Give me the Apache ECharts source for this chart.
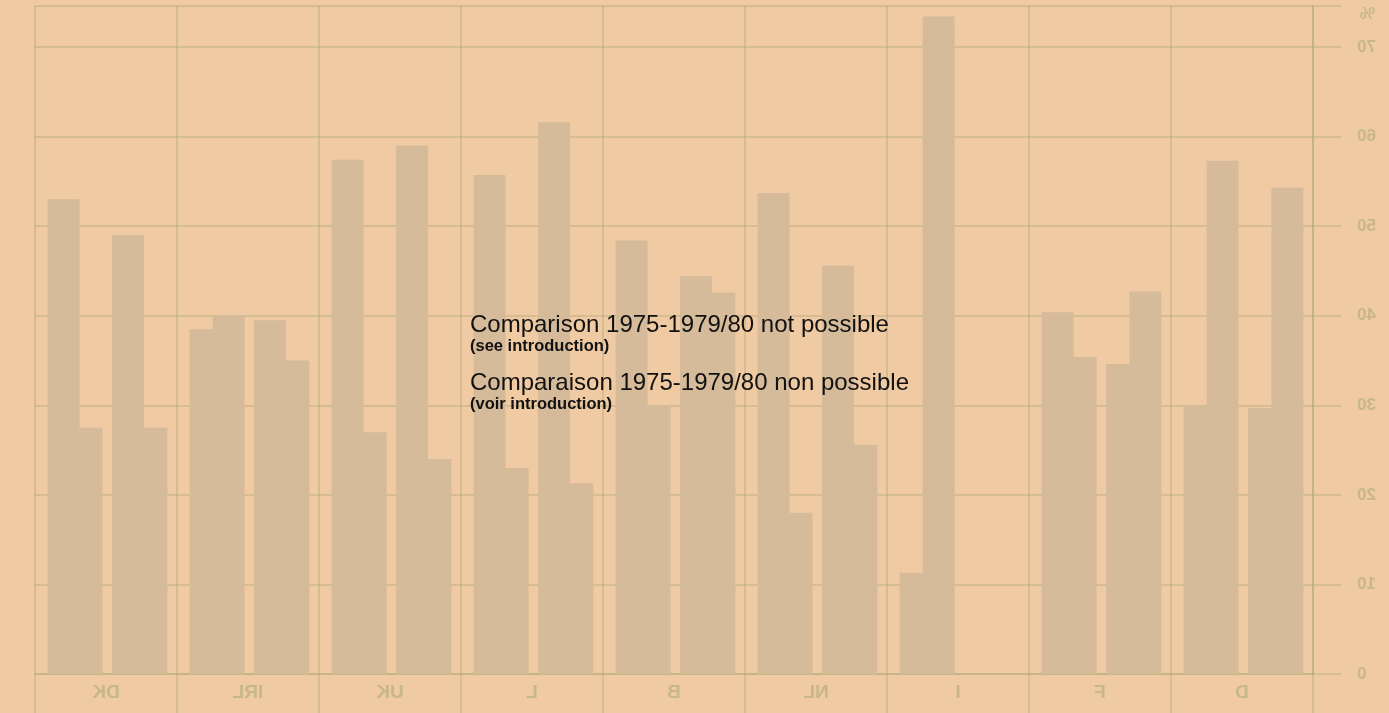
<!DOCTYPE html>
<html><head><meta charset="utf-8">
<script src="https://cdn.jsdelivr.net/npm/echarts@6/dist/echarts.min.js"></script>
<style>
html,body{margin:0;padding:0;background:#efcaa2;overflow:hidden;}
#wrap{position:relative;width:1389px;height:713px;}
#chart{position:absolute;left:0;top:0;width:1389px;height:713px;transform:scaleX(-1);}
#note{position:absolute;left:0;top:0;width:1389px;height:713px;}
</style></head><body>
<div id="wrap"><div id="chart"></div><div id="note"></div></div>
<script>
// Data (chart as printed on the reverse of the page, read left to right on that side)
const categories = ['D', 'F', 'I', 'NL', 'B', 'L', 'UK', 'IRL', 'DK'];
const barsA = [54.3, 42.7, null, 25.6, 42.6, 21.3, 24.0, 35.0, 27.5];
const barsB = [29.7, 34.6, null, 45.6, 44.4, 61.6, 59.0, 39.5, 49.0];
const barsC = [57.3, 35.4, 73.4, 18.0, 30.0, 23.0, 27.0, 40.0, 27.5];
const barsD = [30.0, 40.4, 11.3, 53.7, 48.4, 55.7, 57.4, 38.5, 53.0];
const yTickValues = [0, 10, 20, 30, 40, 50, 60, 70];
const unitLabel = '%';
const noteLines = [
  'Comparison 1975-1979/80 not possible',
  '(see introduction)',
  'Comparaison 1975-1979/80 non possible',
  '(voir introduction)'
];

// Styling / layout
const barColor = '#d5bb9a';
const gridColor = 'rgba(160,165,110,0.42)';
const labelColor = 'rgba(150,160,110,0.45)';
const offsets = [-0.320, -0.155, 0.137, 0.299];
const barFrac = 0.225;

function barSeries(values, off) {
  return {
    type: 'custom',
    data: values.map((v, i) => [i, v == null ? NaN : v]),
    encode: { x: 0, y: 1 },
    renderItem: function (params, api) {
      const v = api.value(1);
      if (v == null || isNaN(v)) return null;
      const idx = api.value(0);
      const band = api.size([1, 0])[0];
      const base = api.coord([idx, 0]);
      const top = api.coord([idx, v]);
      const w = band * barFrac;
      const cx = base[0] + band * off;
      return {
        type: 'rect',
        shape: { x: cx - w / 2, y: top[1], width: w, height: base[1] - top[1] },
        style: { fill: barColor }
      };
    },
    z: 2
  };
}

const chart = echarts.init(document.getElementById('chart'), null, { renderer: 'canvas' });
chart.setOption({
  backgroundColor: 'transparent',
  animation: false,
  grid: { left: 76, right: 35, top: 5.8, bottom: 39 },
  xAxis: {
    type: 'category',
    data: categories,
    boundaryGap: true,
    axisLine: { show: true, lineStyle: { color: gridColor, width: 1.5 } },
    axisTick: { show: true, length: 39, lineStyle: { color: gridColor, width: 1.5 } },
    splitLine: { show: true, lineStyle: { color: gridColor, width: 1.5 } },
    axisLabel: { color: labelColor, fontSize: 19, fontFamily: 'Liberation Sans', fontWeight: 'bold', margin: 9 }
  },
  yAxis: {
    type: 'value',
    min: 0, max: 74.6, interval: 10,
    position: 'left',
    axisLine: { show: true, lineStyle: { color: gridColor, width: 1.5 } },
    axisTick: { show: true, length: 28, lineStyle: { color: gridColor, width: 1.5 } },
    splitLine: { show: true, lineStyle: { color: gridColor, width: 1.5 } },
    axisLabel: {
      color: labelColor, fontSize: 17, fontFamily: 'Liberation Sans', fontWeight: 'bold', margin: 44,
      formatter: v => (yTickValues.indexOf(v) >= 0 ? String(v) : '')
    }
  },
  graphic: [{
    type: 'text', left: 14, top: 6,
    style: { text: unitLabel, fill: labelColor, font: 'bold 17px "Liberation Sans"' }
  }],
  series: [barSeries(barsA, offsets[0]), barSeries(barsB, offsets[1]), barSeries(barsC, offsets[2]), barSeries(barsD, offsets[3])]
});

const note = echarts.init(document.getElementById('note'), null, { renderer: 'canvas' });
const notePos = [[470, 325, 'normal 24px'], [470, 346, 'bold 16.5px'], [470, 383, 'normal 24px'], [470, 404, 'bold 16.5px']];
note.setOption({
  backgroundColor: 'transparent',
  animation: false,
  graphic: noteLines.map((t, i) => ({
    type: 'text', x: notePos[i][0], y: notePos[i][1],
    style: { text: t, fill: '#111', font: notePos[i][2] + ' "Liberation Sans", Arial, sans-serif', verticalAlign: 'middle', align: 'left' }
  }))
});
</script>
</body></html>
